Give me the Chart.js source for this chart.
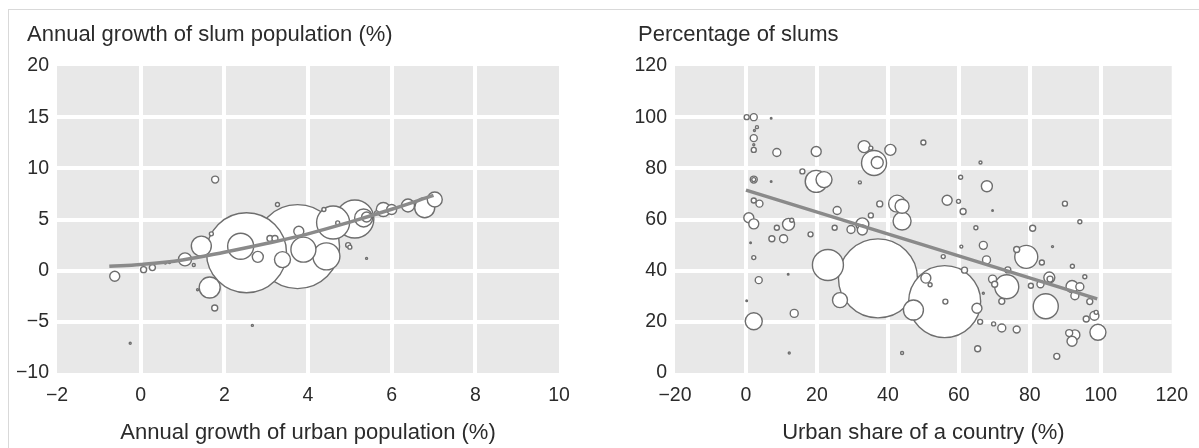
<!DOCTYPE html>
<html>
<head>
<meta charset="utf-8">
<script src="https://cdn.jsdelivr.net/npm/chart.js@4"></script>
<style>
  body { margin: 0; background: #fff; }
  #wrap { position: relative; width: 1199px; height: 448px; overflow: hidden; }
  #frame { position: absolute; left: 8px; top: 9px; width: 1200px; height: 450px;
           border-top: 1px solid #d9d9d9; border-left: 1px solid #d9d9d9; }
  canvas { position: absolute; top: 0; }
</style>
</head>
<body>
<div id="wrap">
  <div id="frame"></div>
  <canvas id="growthChart" width="600" height="448" style="left:0"></canvas>
  <canvas id="shareChart" width="599" height="448" style="left:600px"></canvas>
</div>
<script>
// left panel: growth of urban vs slum population (bubble r = pixel radius)
const urbanGrowth = [-0.62, 0.07, 0.28, 0.59, 0.69, 1.06, 1.27, 1.78, 1.77, -0.25, 2.67, 1.45, 1.65, 1.69,
  2.53, 2.39, 2.8, 3.09, 3.21, 3.75, 4.6, 4.44, 3.89, 3.39, 3.78, 4.71, 4.38, 3.27, 5.12, 5.33, 5.4,
  4.96, 5.0, 5.4, 5.8, 6.0, 6.39, 6.79, 7.03, 5.64, 1.36];
const slumGrowth = [-0.55, 0.1, 0.3, 0.75, 0.8, 1.1, 0.55, 8.9, -3.65, -7.1, -5.35, 2.4, -1.65, 3.6,
  1.75, 2.38, 1.35, 3.14, 3.14, 2.35, 4.7, 1.4, 2.06, 1.08, 3.85, 4.67, 5.98, 6.47, 5.05, 5.15, 5.25,
  2.5, 2.3, 1.2, 5.98, 5.98, 6.37, 6.15, 6.96, 5.65, -1.86];
const growthSize = [5, 3, 3, 1, 1, 6.5, 1.5, 3.5, 3, 1, 1, 10, 10.5, 2,
  40, 13, 5.5, 3, 3, 42, 16.5, 13.5, 12.5, 8, 5, 2, 2, 2, 19, 9, 5,
  2.5, 2, 1, 7, 5, 6.5, 10, 7.5, 2, 1];
const growthTrendX = [-0.75, 0, 1, 2, 3, 4, 5, 6, 7];
const growthTrendY = [0.42, 0.6, 1.05, 1.8, 2.65, 3.6, 4.75, 6.0, 7.35];

// right panel: urban share vs percentage of slums
const urbanShare = [0.2, 2.2, 7.1, 3.1, 2.4, 2.2, 2.2, 2.2, 8.7, 19.8, 33.3, 35.2, 40.7, 36.1, 37.0,
  2.2, 2.2, 7.1, 15.9, 19.8, 22.0, 32.1, 2.2, 3.8, 25.7, 37.7, 42.6, 44.0, 44.0, 35.2, 0.8, 2.2,
  8.7, 12.0, 12.9, 18.2, 25.0, 29.6, 32.8, 32.8, 7.3, 10.6, 1.3, 2.2, 3.6, 0.2, 2.2, 13.6, 12.2,
  23.1, 26.5, 37.2, 47.2, 44.0, 56.0, 56.2, 50.7, 51.9, 65.1, 61.6, 60.7, 55.6, 66.9, 67.8, 76.3,
  79.0, 83.4, 86.4, 92.0, 95.5, 69.5, 70.1, 73.5, 73.8, 72.1, 66.9, 66.0, 69.8, 72.1, 76.3, 65.3,
  80.3, 83.0, 85.5, 85.7, 84.5, 91.9, 94.1, 92.7, 96.9, 87.6, 91.1, 92.7, 91.9, 95.9, 98.2, 98.7,
  99.2, 50.0, 66.1, 60.5, 67.9, 56.7, 59.9, 61.2, 69.5, 64.8, 80.8, 89.9, 94.1, 11.9];
const slumShare = [100, 100, 99.6, 96.1, 94.8, 91.8, 89.2, 87.2, 86.2, 86.6, 88.5, 87.9, 87.2, 82.1, 82.3,
  75.6, 75.6, 74.9, 78.8, 74.9, 75.6, 74.5, 67.4, 66.2, 63.5, 66.1, 66.2, 65.2, 59.4, 61.6, 60.7, 58.3,
  56.8, 58.1, 59.7, 54.2, 56.8, 56.1, 58.1, 55.9, 52.5, 52.5, 50.9, 45.1, 36.3, 28.2, 20.2, 23.3, 7.8,
  42.2, 28.5, 37.0, 24.6, 7.8, 27.9, 27.9, 37.1, 34.5, 25.3, 40.2, 49.4, 45.5, 49.9, 44.2, 48.3,
  45.4, 43.2, 49.4, 41.7, 37.6, 36.7, 34.7, 33.7, 40.3, 28.0, 31.2, 20.0, 19.2, 17.6, 17.0, 9.5,
  34.1, 34.7, 37.3, 36.7, 26.1, 33.8, 33.7, 30.2, 27.9, 6.5, 15.6, 14.9, 12.4, 21.1, 22.4, 23.7,
  15.9, 90.1, 82.3, 76.5, 73.0, 67.5, 67.1, 63.1, 63.5, 56.8, 56.6, 66.2, 59.1, 38.6];
const shareSize = [2.5, 3.5, 0.8, 1.5, 1, 3.5, 1, 2.5, 4, 5, 6, 2, 5.5, 12.5, 6,
  3.5, 2, 0.8, 2.5, 11, 8, 1.5, 2.5, 3.5, 4, 3, 8.5, 7, 9, 2.5, 5, 5,
  2.5, 6, 2, 2.5, 2.5, 4, 6.5, 5, 3, 4, 0.8, 2, 3.5, 0.8, 8.5, 4, 1,
  15.5, 7.5, 39.5, 10, 1.5, 36, 2.5, 5, 2, 5, 3, 1.5, 2, 4, 4, 3,
  11.5, 2.5, 1, 2, 2, 4, 3, 12, 3, 3, 1, 2.5, 2, 4, 3.5, 3,
  2.5, 3.5, 5.5, 3, 12.5, 6, 4, 4, 3, 3, 3.5, 5, 5, 3, 4.5, 2,
  8, 2.5, 1.5, 2, 5.5, 5, 2, 3, 0.8, 2, 3, 2.5, 2, 0.8];
const shareTrendX = [0, 99];
const shareTrendY = [71.5, 29];

const FONT = '"Liberation Sans", Arimo, Arial, sans-serif';
const TEXT = '#2b2b2b';

// grey plot panel behind the white grid
const plotBackground = {
  id: 'plotBackground',
  beforeDraw(chart) {
    const a = chart.chartArea;
    chart.ctx.save();
    chart.ctx.fillStyle = '#e8e8e8';
    chart.ctx.fillRect(a.left, a.top, a.right - a.left, a.bottom - a.top);
    chart.ctx.restore();
  }
};

// horizontal axis caption above the plot (the y axis name)
const header = {
  id: 'header',
  afterDraw(chart, args, opts) {
    const ctx = chart.ctx;
    ctx.save();
    ctx.font = '22px ' + FONT;
    ctx.fillStyle = TEXT;
    ctx.textBaseline = 'middle';
    ctx.fillText(opts.text, opts.x, opts.y);
    ctx.restore();
  }
};

function bubblePoints(xs, ys, rs) {
  const pts = xs.map((x, i) => ({ x: x, y: ys[i], r: rs[i] }));
  // big ones first so small bubbles stay visible on top
  return pts.sort((a, b) => b.r - a.r);
}

function minusTick(v) {
  return v < 0 ? '\u2212' + Math.abs(v) : '' + v;
}

function innerGrid(ctx) {
  const n = ctx.scale.ticks.length;
  return (ctx.index === 0 || ctx.index === n - 1) ? 'rgba(0,0,0,0)' : '#ffffff';
}

function makeChart(id, cfg) {
  return new Chart(document.getElementById(id).getContext('2d'), {
    type: 'bubble',
    data: {
      datasets: [{
        type: 'line',
        data: cfg.trendX.map((x, i) => ({ x: x, y: cfg.trendY[i] })),
        borderColor: '#8a8a8a',
        borderWidth: 3.5,
        pointRadius: 0,
        tension: 0.4,
        order: 0
      }, {
        data: bubblePoints(cfg.xs, cfg.ys, cfg.rs),
        backgroundColor: '#ffffff',
        borderColor: '#6e6e6e',
        borderWidth: 1.4,
        order: 1
      }]
    },
    options: {
      responsive: false,
      animation: false,
      layout: {
        autoPadding: false,
        padding: { left: cfg.padLeft, right: cfg.padRight, top: 66, bottom: 0 }
      },
      plugins: {
        legend: { display: false },
        tooltip: { enabled: false },
        header: { text: cfg.title, x: cfg.titleX, y: 35 }
      },
      scales: {
        x: {
          type: 'linear',
          min: cfg.xMin, max: cfg.xMax,
          border: { display: false },
          grid: { color: innerGrid, lineWidth: 4, drawTicks: false },
          ticks: { stepSize: cfg.xStep, padding: 11, maxRotation: 0, color: TEXT,
                   font: { family: FONT, size: 19.5 }, callback: minusTick },
          title: { display: true, text: cfg.xTitle, color: TEXT,
                   font: { family: FONT, size: 22 }, padding: { top: 10, bottom: 1.5 } },
          afterFit: function(s) { s.height = 75; }
        },
        y: {
          type: 'linear',
          min: cfg.yMin, max: cfg.yMax,
          border: { display: false },
          grid: { color: innerGrid, lineWidth: 4, drawTicks: false },
          ticks: { stepSize: cfg.yStep, padding: 8, color: TEXT,
                   font: { family: FONT, size: 19.5 }, callback: minusTick },
          afterFit: function(s) { s.width = cfg.yAxisWidth; }
        }
      }
    },
    plugins: [plotBackground, header]
  });
}

makeChart('growthChart', {
  xs: urbanGrowth, ys: slumGrowth, rs: growthSize,
  trendX: growthTrendX, trendY: growthTrendY,
  title: 'Annual growth of slum population (%)', titleX: 27,
  xTitle: 'Annual growth of urban population (%)',
  xMin: -2, xMax: 10, xStep: 2, yMin: -10, yMax: 20, yStep: 5,
  padLeft: 6, padRight: 41, yAxisWidth: 51
});

makeChart('shareChart', {
  xs: urbanShare, ys: slumShare, rs: shareSize,
  trendX: shareTrendX, trendY: shareTrendY,
  title: 'Percentage of slums', titleX: 38,
  xTitle: 'Urban share of a country (%)',
  xMin: -20, xMax: 120, xStep: 20, yMin: 0, yMax: 120, yStep: 20,
  padLeft: 18, padRight: 21, yAxisWidth: 57
});
</script>
</body>
</html>
